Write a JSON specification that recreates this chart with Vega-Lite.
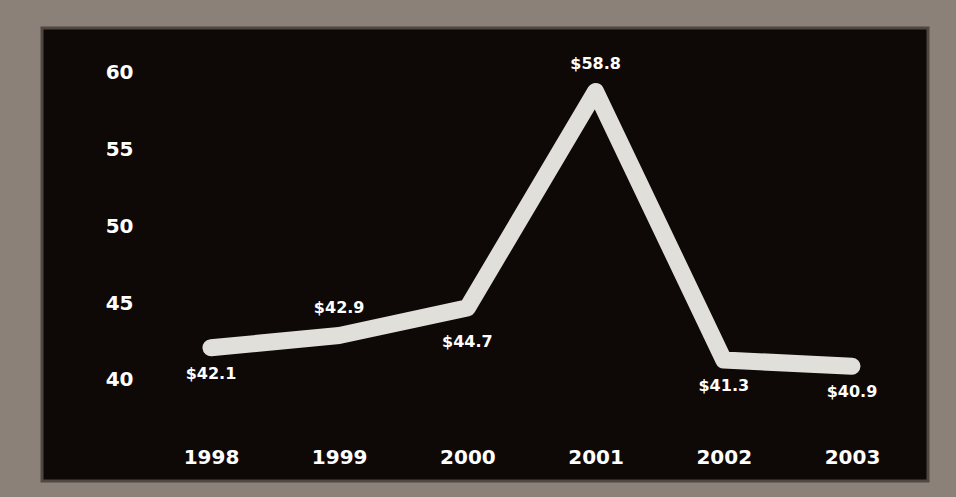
{
  "$schema": "https://vega.github.io/schema/vega-lite/v6.json",
  "width": 886,
  "height": 453,
  "autosize": {"type": "none"},
  "padding": {"left": 42, "top": 28, "right": 28, "bottom": 16},
  "background": "#8b8178",
  "config": {
    "view": {"fill": "#0e0907", "stroke": "#4f4842", "strokeWidth": 3},
    "font": "DejaVu Sans"
  },
  "data": {
    "values": [
      {"year": 1998, "value": 42.1},
      {"year": 1999, "value": 42.9},
      {"year": 2000, "value": 44.7},
      {"year": 2001, "value": 58.8},
      {"year": 2002, "value": 41.3},
      {"year": 2003, "value": 40.9}
    ]
  },
  "encoding": {
    "x": {
      "field": "year",
      "type": "quantitative",
      "scale": {"domain": [1996.682, 2003.593], "nice": false, "zero": false},
      "axis": {
        "values": [1998, 1999, 2000, 2001, 2002, 2003],
        "format": "d",
        "title": null,
        "grid": false,
        "domain": false,
        "ticks": false,
        "offset": -40,
        "labelPadding": 6,
        "labelColor": "#ffffff",
        "labelFont": "DejaVu Sans",
        "labelFontWeight": "bold",
        "labelFontSize": 20
      }
    },
    "y": {
      "field": "value",
      "type": "quantitative",
      "scale": {"domain": [33.42, 62.93], "nice": false, "zero": false},
      "axis": {
        "values": [40, 45, 50, 55, 60],
        "title": null,
        "grid": false,
        "domain": false,
        "ticks": false,
        "offset": -96,
        "labelPadding": 5,
        "labelColor": "#ffffff",
        "labelFont": "DejaVu Sans",
        "labelFontWeight": "bold",
        "labelFontSize": 20
      }
    }
  },
  "layer": [
    {
      "mark": {"type": "line", "color": "#ecebe6", "strokeWidth": 17, "strokeCap": "round", "strokeJoin": "round", "opacity": 0.95}
    },
    {
      "transform": [{"filter": "datum.year == 1999 || datum.year == 2001"}],
      "mark": {"type": "text", "color": "#ffffff", "fontSize": 16, "fontWeight": "bold", "dy": -27},
      "encoding": {"text": {"field": "value", "type": "quantitative", "format": "$.1f"}}
    },
    {
      "transform": [{"filter": "datum.year == 1998 || datum.year == 2002 || datum.year == 2003"}],
      "mark": {"type": "text", "color": "#ffffff", "fontSize": 16, "fontWeight": "bold", "dy": 26},
      "encoding": {"text": {"field": "value", "type": "quantitative", "format": "$.1f"}}
    },
    {
      "transform": [{"filter": "datum.year == 2000"}],
      "mark": {"type": "text", "color": "#ffffff", "fontSize": 16, "fontWeight": "bold", "dy": 34},
      "encoding": {"text": {"field": "value", "type": "quantitative", "format": "$.1f"}}
    }
  ]
}
